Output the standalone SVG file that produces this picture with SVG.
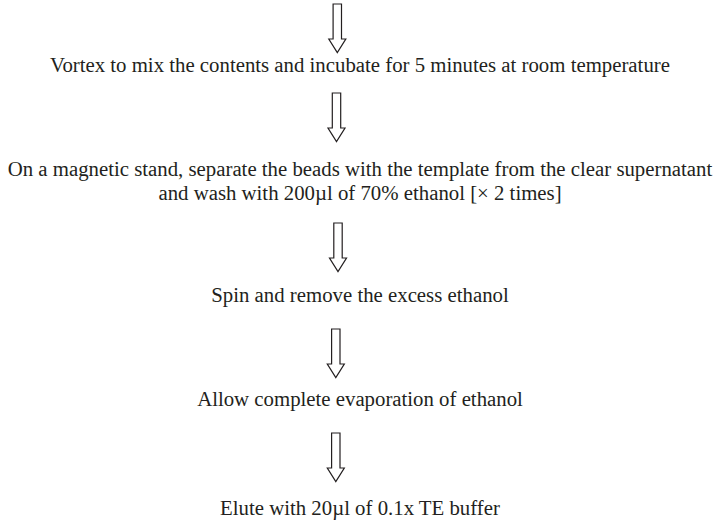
<svg xmlns="http://www.w3.org/2000/svg" width="715" height="525" viewBox="0 0 715 525">
<style>
text{font-family:"Liberation Serif","Times New Roman",serif;font-size:20.8px;fill:#231f20;text-anchor:middle}
.arr{fill:#fff;stroke:#231f20;stroke-width:1.2}
</style>
<defs>
<path id="a" class="arr" d="M-4.2,0 H4.2 V35 H8.5 L0,48.5 L-8.5,35 H-4.2 Z"/>
</defs>
<rect width="715" height="525" fill="#fff"/>
<g id="connectors">
<use href="#a" x="337.3" y="4"/>
<use href="#a" x="336.5" y="93"/>
<use href="#a" x="338" y="223"/>
<use href="#a" x="335.8" y="329"/>
<use href="#a" x="335.8" y="433"/>
</g>
<g id="n1"><text x="360" y="72">Vortex to mix the contents and incubate for 5 minutes at room temperature</text></g>
<g id="n2"><text x="360" y="176">On a magnetic stand, separate the beads with the template from the clear supernatant</text><text x="360" y="200">and wash with 200µl of 70% ethanol [× 2 times]</text></g>
<g id="n3"><text x="360" y="302">Spin and remove the excess ethanol</text></g>
<g id="n4"><text x="360" y="406">Allow complete evaporation of ethanol</text></g>
<g id="n5"><text x="360" y="515">Elute with 20µl of 0.1x TE buffer</text></g>
</svg>
